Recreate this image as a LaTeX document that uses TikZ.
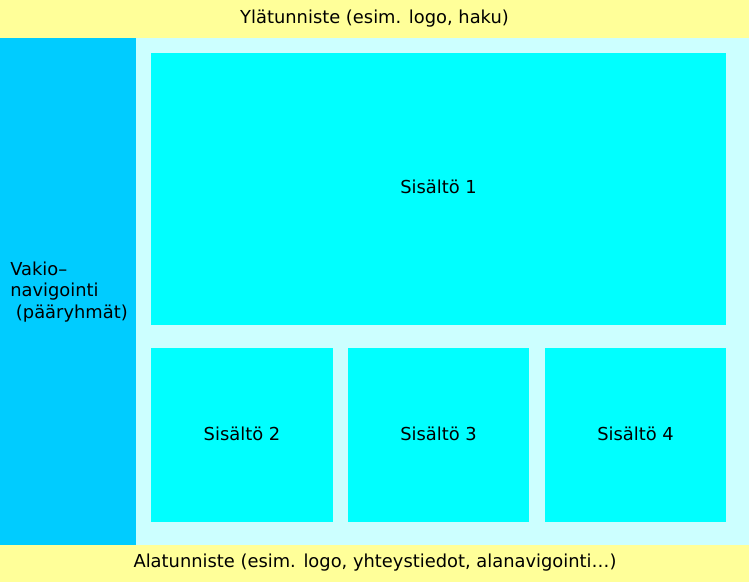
\documentclass[tikz,border=0pt]{standalone}
\usepackage{fontspec}
\setmainfont{DejaVu Sans}
\usepackage{tikz}

\definecolor{otsikko}{RGB}{255,255,153}
\definecolor{navi}{RGB}{0,204,255}
\definecolor{tausta}{RGB}{204,255,255}
\definecolor{sisalto}{RGB}{0,255,255}

\begin{document}
\begin{tikzpicture}[x=0.75pt,y=0.75pt,yscale=-1,xscale=1,every node/.style={font=\fontsize{13.4}{16.2}\selectfont}]
    %set diagram left start at 0, and has height of 582
    \useasboundingbox (0,0) rectangle (749,582);

    %Shape: Rectangle [id:header]
    \fill [otsikko] (0,0) rectangle (749,38);
    %Shape: Rectangle [id:background]
    \fill [tausta] (136,38) rectangle (749,545);
    %Shape: Rectangle [id:navigation]
    \fill [navi] (0,38) rectangle (136,545);
    %Shape: Rectangle [id:footer]
    \fill [otsikko] (0,545) rectangle (749,582);
    %Shape: Rectangle [id:content1]
    \fill [sisalto] (151,53) rectangle (726,325);
    %Shape: Rectangle [id:content2]
    \fill [sisalto] (151,348) rectangle (333,522);
    %Shape: Rectangle [id:content3]
    \fill [sisalto] (348,348) rectangle (529,522);
    %Shape: Rectangle [id:content4]
    \fill [sisalto] (545,348) rectangle (726,522);

    % Text Node
    \draw (374.5,19) node [inner sep=0.75pt] (ylatunniste) {Ylätunniste (esim. logo, haku)};
    % Text Node
    \draw (375,563) node [inner sep=0.75pt] (alatunniste) {Alatunniste (esim. logo, yhteystiedot, alanavigointi…)};
    % Text Node
    \draw (9,292) node [anchor=west][inner sep=0.75pt] [align=left] (navitext) {Vakio–\\navigointi\\\ (pääryhmät)};
    % Text Node
    \draw (438.5,187) node [inner sep=0.75pt] (sisalto1) {Sisältö 1};
    % Text Node
    \draw (242,434) node [inner sep=0.75pt] (sisalto2) {Sisältö 2};
    % Text Node
    \draw (438.5,434) node [inner sep=0.75pt] (sisalto3) {Sisältö 3};
    % Text Node
    \draw (635.5,434) node [inner sep=0.75pt] (sisalto4) {Sisältö 4};
\end{tikzpicture}
\end{document}
